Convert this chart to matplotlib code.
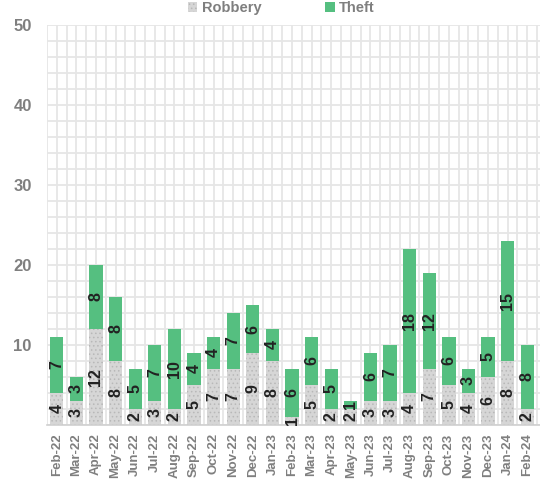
import numpy as np
import matplotlib
matplotlib.use("Agg")
import matplotlib.pyplot as plt
from matplotlib.ticker import MultipleLocator

# --------------------------------------------------------------------
# Dades
# --------------------------------------------------------------------
months = ["Feb-22", "Mar-22", "Apr-22", "May-22", "Jun-22", "Jul-22", "Aug-22",
          "Sep-22", "Oct-22", "Nov-22", "Dec-22", "Jan-23", "Feb-23", "Mar-23",
          "Apr-23", "May-23", "Jun-23", "Jul-23", "Aug-23", "Sep-23", "Oct-23",
          "Nov-23", "Dec-23", "Jan-24", "Feb-24"]
robbery = [4, 3, 12, 8, 2, 3, 2, 5, 7, 7, 9, 8, 1, 5, 2, 2, 3, 3, 4, 7, 5, 4, 6, 8, 2]
theft = [7, 3, 8, 8, 5, 7, 10, 4, 4, 7, 6, 4, 6, 6, 5, 1, 6, 7, 18, 12, 6, 3, 5, 15, 8]
y_ticks = [10, 20, 30, 40, 50]

plt.rcParams["font.family"] = ["Liberation Sans", "DejaVu Sans"]
plt.rcParams["font.weight"] = "bold"
plt.rcParams["hatch.linewidth"] = 0.6

GREEN = "#55bf80"
GRAY = "#d6d6d6"
TXT = "#7f7f7f"

fig = plt.figure(figsize=(5.4, 4.84), dpi=100)
ax = fig.add_axes([0.087, 0.122, 0.913, 0.826])

x = np.arange(len(months))
w = 0.68
ax.bar(x, robbery, w, color=GRAY, edgecolor="#b8b8b8", linewidth=0,
       hatch="....", label="Robbery", zorder=2)
ax.bar(x, theft, w, bottom=robbery, color=GREEN, linewidth=0,
       label="Theft", zorder=2)

# etiquetes dins de cada segment
for i in range(len(months)):
    ax.text(x[i], robbery[i] / 2, str(robbery[i]), rotation=90, ha="center",
            va="center", fontsize=11.5, fontweight="bold", color="#222222", zorder=3)
    ax.text(x[i], robbery[i] + theft[i] / 2, str(theft[i]), rotation=90,
            ha="center", va="center", fontsize=11.5, fontweight="bold",
            color="#222222", zorder=3)

ax.set_xlim(-0.5, 24.65)
ax.set_ylim(0, 50)
ax.set_yticks(y_ticks)
ax.yaxis.set_minor_locator(MultipleLocator(2))
ax.set_xticks(x)
ax.set_xticks(x + 0.5, minor=True)
ax.set_xticklabels(months, rotation=90, fontsize=9.5, fontweight="bold", color=TXT)
for lab in ax.get_yticklabels():
    lab.set_fontsize(12)
    lab.set_fontweight("bold")
    lab.set_color(TXT)

ax.tick_params(which="both", length=0)
ax.tick_params(axis="y", pad=11)
ax.tick_params(axis="x", pad=6)
ax.grid(which="both", color="#e6e6e6", linewidth=1.3, zorder=0)
ax.set_axisbelow(True)
ax.axvline(-0.5, color="#e6e6e6", linewidth=1.3, zorder=0)

for s in ["top", "right", "left"]:
    ax.spines[s].set_visible(False)
ax.spines["bottom"].set_color("#d0d0d0")
ax.spines["bottom"].set_linewidth(1.2)

leg = ax.legend(loc="upper center", bbox_to_anchor=(0.475, 1.075), ncol=2,
                frameon=False, handlelength=0.7, handleheight=0.7,
                columnspacing=4.6, handletextpad=0.3, borderaxespad=0)
for t in leg.get_texts():
    t.set_color(TXT)
    t.set_fontweight("bold")
    t.set_fontsize(10.5)

fig.savefig("out.png", dpi=100)
